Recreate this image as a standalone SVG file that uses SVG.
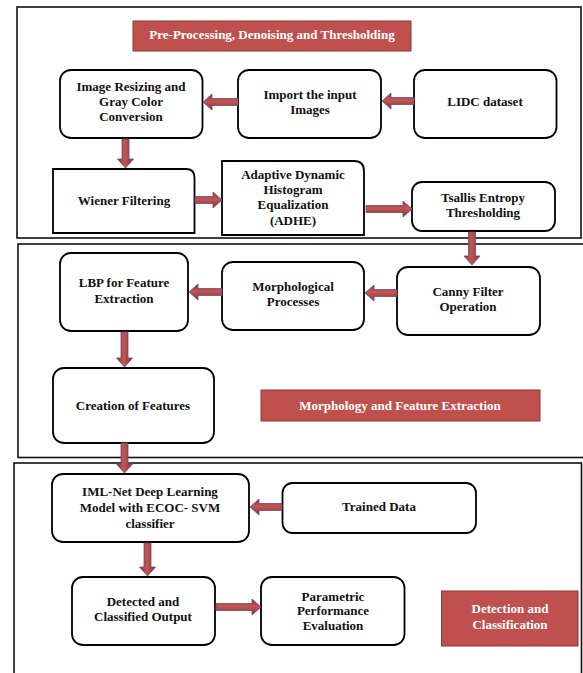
<svg xmlns="http://www.w3.org/2000/svg" width="583" height="673" viewBox="0 0 583 673" font-family="'Liberation Serif', 'Times New Roman', serif">
<defs>
<linearGradient id="gh" x1="0" y1="0" x2="0" y2="1">
<stop offset="0" stop-color="#8E3433"/><stop offset="0.45" stop-color="#C25754"/><stop offset="1" stop-color="#8A3030"/>
</linearGradient>
<linearGradient id="gv" x1="0" y1="0" x2="1" y2="0">
<stop offset="0" stop-color="#8E3433"/><stop offset="0.45" stop-color="#C25754"/><stop offset="1" stop-color="#8A3030"/>
</linearGradient>
</defs>
<style>
.sec{fill:none;stroke:#111;stroke-width:1.6}
.node{fill:#fff;stroke:#000;stroke-width:1.8}
.lab{fill:#C0504D;stroke:#8C3836;stroke-width:1}
text{font-family:'Liberation Serif','Times New Roman',serif;font-weight:bold;font-size:13px;text-anchor:middle;fill:#111}
.lt{fill:#fff}
.ah{fill:url(#gh);stroke:#6E4A7C;stroke-width:0.8}
.av{fill:url(#gv);stroke:#6E4A7C;stroke-width:0.8}
</style>
<rect width="583" height="673" fill="#fff"/>
<g id="sections">
<rect class="sec" x="17" y="7" width="564" height="231"/>
<rect class="sec" x="18" y="244" width="570" height="213.5"/>
<rect class="sec" x="14" y="463" width="567.5" height="220"/>
</g>
<g id="label-preprocessing">
<rect class="lab" x="133" y="21" width="278" height="30"/>
<text class="lt" x="272" y="38.5">Pre-Processing, Denoising and Thresholding</text>
</g>
<g id="node-resizing">
<rect class="node" x="60" y="70" width="142.5" height="68" rx="11"/>
<text x="131" y="90.5">Image Resizing and</text>
<text x="131" y="105.5">Gray Color</text>
<text x="131" y="120.5">Conversion</text>
</g>
<g id="node-import">
<rect class="node" x="238" y="70" width="143" height="68" rx="11"/>
<text x="310" y="98.5">Import the input</text>
<text x="310" y="113.5">Images</text>
</g>
<g id="node-lidc">
<rect class="node" x="414" y="70" width="142.5" height="68" rx="11"/>
<text x="485" y="106">LIDC dataset</text>
</g>
<g id="node-wiener">
<path class="node" d="M53,169 H186 Q194.5,169 194.5,177.5 V233 H53 Z"/>
<text x="124" y="204.5">Wiener Filtering</text>
</g>
<g id="node-adhe">
<path class="node" d="M222,161 H354 Q364,161 364,171 V235 H222 Z"/>
<text x="293" y="178.5">Adaptive Dynamic</text>
<text x="293" y="194">Histogram</text>
<text x="293" y="208.5">Equalization</text>
<text x="293" y="224.5">(ADHE)</text>
</g>
<g id="node-tsallis">
<rect class="node" x="412" y="182" width="143" height="49" rx="10"/>
<text x="483" y="202">Tsallis Entropy</text>
<text x="483" y="216.5">Thresholding</text>
</g>
<g id="node-lbp">
<rect class="node" x="60" y="253" width="128" height="78" rx="11"/>
<text x="124" y="287">LBP for Feature</text>
<text x="124" y="302.5">Extraction</text>
</g>
<g id="node-morph">
<rect class="node" x="222" y="262" width="142" height="68" rx="11"/>
<text x="293" y="290.5">Morphological</text>
<text x="293" y="306">Processes</text>
</g>
<g id="node-canny">
<rect class="node" x="397" y="267" width="143" height="68" rx="11"/>
<text x="468" y="296">Canny Filter</text>
<text x="468" y="311">Operation</text>
</g>
<g id="node-creation">
<rect class="node" x="53" y="368" width="161" height="75" rx="11"/>
<text x="133" y="409.5">Creation of Features</text>
</g>
<g id="label-morphology">
<rect class="lab" x="261" y="390" width="279" height="31"/>
<text class="lt" x="400" y="409.5">Morphology and Feature Extraction</text>
</g>
<g id="node-iml">
<rect class="node" x="52" y="474" width="197" height="68" rx="11"/>
<text x="150" y="496">IML-Net Deep Learning</text>
<text x="150" y="511.5">Model with ECOC- SVM</text>
<text x="150" y="527.5">classifier</text>
</g>
<g id="node-trained">
<rect class="node" x="282.5" y="483" width="193.5" height="50" rx="10"/>
<text x="379" y="511">Trained Data</text>
</g>
<g id="node-detected">
<rect class="node" x="72" y="577" width="143" height="68" rx="11"/>
<text x="143" y="606">Detected and</text>
<text x="143" y="621">Classified Output</text>
</g>
<g id="node-parametric">
<rect class="node" x="261" y="577" width="143.5" height="68" rx="11"/>
<text x="333" y="600.5">Parametric</text>
<text x="333" y="614.5">Performance</text>
<text x="333" y="629.5">Evaluation</text>
</g>
<g id="label-detection">
<rect class="lab" x="441.5" y="591" width="136.5" height="55"/>
<text class="lt" x="510" y="612.5">Detection and</text>
<text class="lt" x="510" y="628.5">Classification</text>
</g>
<g id="connectors">
<polygon class="ah" points="414,97.5 391,97.5 391,93 382,101 391,109 391,104.5 414,104.5"/>
<polygon class="ah" points="238,98.5 212,98.5 212,94 203,102 212,110 212,105.5 238,105.5"/>
<polygon class="ah" points="397,289.5 374,289.5 374,285 365,293 374,301 374,296.5 397,296.5"/>
<polygon class="ah" points="222,288.5 198,288.5 198,284 189,292 198,300 198,295.5 222,295.5"/>
<polygon class="ah" points="282,503.5 259,503.5 259,499 250,507 259,515 259,510.5 282,510.5"/>
<polygon class="ah" points="195,196.5 213,196.5 213,192 222,200 213,208 213,203.5 195,203.5"/>
<polygon class="ah" points="366,205.5 403,205.5 403,201 412,209 403,217 403,212.5 366,212.5"/>
<polygon class="ah" points="216,603.5 252,603.5 252,599 261,607 252,615 252,610.5 216,610.5"/>
<polygon class="av" points="122,139 129,139 129,159 133.5,159 125.5,168 117.5,159 122,159"/>
<polygon class="av" points="468.5,232 475.5,232 475.5,256 480,256 472,265 464,256 468.5,256"/>
<polygon class="av" points="121,332 128,332 128,358 132.5,358 124.5,367 116.5,358 121,358"/>
<polygon class="av" points="121,443 128,443 128,464 132.5,464 124.5,473 116.5,464 121,464"/>
<polygon class="av" points="144,543 151,543 151,567 155.5,567 147.5,576 139.5,567 144,567"/>
</g>
</svg>
